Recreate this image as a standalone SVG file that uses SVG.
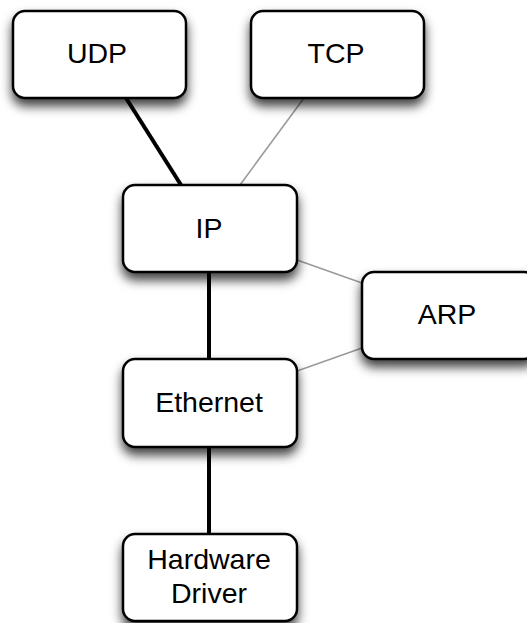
<svg xmlns="http://www.w3.org/2000/svg" width="527" height="623" viewBox="0 0 527 623">
  <style>
    .box { fill: #ffffff; stroke: #000000; stroke-width: 2.5; filter: url(#shadow); }
    .label { font-family: "Liberation Sans", Arial, sans-serif; font-size: 28.5px; fill: #000000; text-anchor: middle; }
    .strong { stroke: #000000; stroke-width: 4; fill: none; }
    .weak { stroke: #9a9a9a; stroke-width: 1.6; fill: none; }
  </style>
  <defs>
    <filter id="shadow" x="-20%" y="-20%" width="140%" height="170%">
      <feDropShadow dx="0" dy="7" stdDeviation="5.5" flood-color="#000000" flood-opacity="0.75"/>
    </filter>
  </defs>
  <rect width="527" height="623" fill="#ffffff"/>

  <g id="connectors">
    <line class="strong" x1="126" y1="98" x2="181" y2="185"/>
    <line class="weak" x1="304" y1="98" x2="240" y2="185"/>
    <line class="strong" x1="209" y1="272" x2="209" y2="359"/>
    <line class="weak" x1="297" y1="260" x2="362" y2="283"/>
    <line class="weak" x1="297" y1="371" x2="362" y2="348"/>
    <line class="strong" x1="209" y1="447" x2="209" y2="534"/>
  </g>

  <g id="udp">
    <rect class="box" x="13" y="11" width="173" height="87" rx="12"/>
    <text class="label" x="97" y="63">UDP</text>
  </g>
  <g id="tcp">
    <rect class="box" x="251" y="11" width="173" height="87" rx="12"/>
    <text class="label" x="336" y="63">TCP</text>
  </g>
  <g id="ip">
    <rect class="box" x="123" y="185" width="174" height="87" rx="12"/>
    <text class="label" x="209" y="238">IP</text>
  </g>
  <g id="arp">
    <rect class="box" x="362" y="272" width="174" height="87" rx="12"/>
    <text class="label" x="447" y="324">ARP</text>
  </g>
  <g id="ethernet">
    <rect class="box" x="123" y="359" width="174" height="88" rx="12"/>
    <text class="label" x="209" y="412">Ethernet</text>
  </g>
  <g id="hardware-driver">
    <rect class="box" x="123" y="534" width="174" height="87" rx="12"/>
    <text class="label" x="209" y="569">Hardware</text>
    <text class="label" x="209" y="603">Driver</text>
  </g>
</svg>
